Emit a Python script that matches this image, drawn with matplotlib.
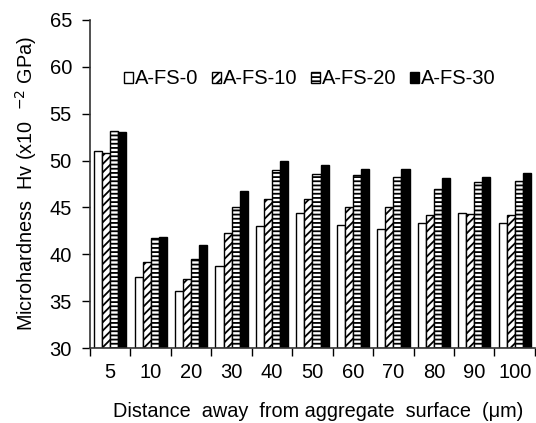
import matplotlib
matplotlib.use("Agg")
import matplotlib.pyplot as plt
import numpy as np

plt.rcParams['font.family'] = ['Liberation Sans', 'DejaVu Sans']
plt.rcParams['hatch.linewidth'] = 1.3

categories = ["5", "10", "20", "30", "40", "50", "60", "70", "80", "90", "100"]
series_names = ["A-FS-0", "A-FS-10", "A-FS-20", "A-FS-30"]
a_fs_0 = [51.0, 37.6, 36.05, 38.75, 43.05, 44.4, 43.1, 42.7, 43.3, 44.45, 43.3]
a_fs_10 = [50.8, 39.2, 37.4, 42.3, 45.9, 45.9, 45.0, 45.0, 44.2, 44.3, 44.2]
a_fs_20 = [53.2, 41.7, 39.5, 45.0, 49.0, 48.6, 48.5, 48.25, 47.0, 47.7, 47.85]
a_fs_30 = [53.0, 41.9, 41.0, 46.8, 50.0, 49.5, 49.05, 49.05, 48.1, 48.2, 48.7]
yticks = [30, 35, 40, 45, 50, 55, 60, 65]

series = [a_fs_0, a_fs_10, a_fs_20, a_fs_30]
faces = ["white", "white", "white", "black"]
hatches = [None, "////", "----", None]

fig = plt.figure(figsize=(5.36, 4.23), dpi=100)
ax = fig.add_axes([0.168, 0.177, 0.830, 0.776])

x = np.arange(len(categories))
w = 0.2
for i, (vals, fc, h, name) in enumerate(zip(series, faces, hatches, series_names)):
    ax.bar(x - 0.3 + i * w, np.array(vals) - 30, bottom=30, width=w,
           color=fc, edgecolor="black", linewidth=1.0, hatch=h, label=name)

ax.set_xlim(-0.5, len(categories) - 0.5)
ax.set_ylim(30, 65)
ax.set_yticks(yticks)
ax.set_xticks(x)
ax.set_xticklabels(categories)
ax.set_xticks(np.arange(-0.5, len(categories)), minor=True)
ax.tick_params(axis="x", which="major", length=0, labelsize=14.5, pad=11)
ax.tick_params(axis="x", which="minor", length=6, width=1, direction="out")
ax.tick_params(axis="y", length=6, width=1, direction="out", labelsize=14.5, pad=7)
for s in ["top", "right"]:
    ax.spines[s].set_visible(False)
for s in ["left", "bottom"]:
    ax.spines[s].set_linewidth(1.2)
    ax.spines[s].set_color("#333333")

ax.set_ylabel("Microhardness  Hv (x10  $^{-2}$ GPa)", fontsize=14.3, labelpad=8)
ax.set_xlabel("Distance  away  from aggregate  surface  (\u03bcm)", fontsize=14.3,
              labelpad=14, x=0.513)

leg = ax.legend(loc="center", bbox_to_anchor=(0.494, 0.82), ncol=4, frameon=False,
                fontsize=14.5, handlelength=0.47, handleheight=0.47, handletextpad=0.1,
                columnspacing=0.65, borderaxespad=0.2)

fig.savefig("out.png", dpi=100)
